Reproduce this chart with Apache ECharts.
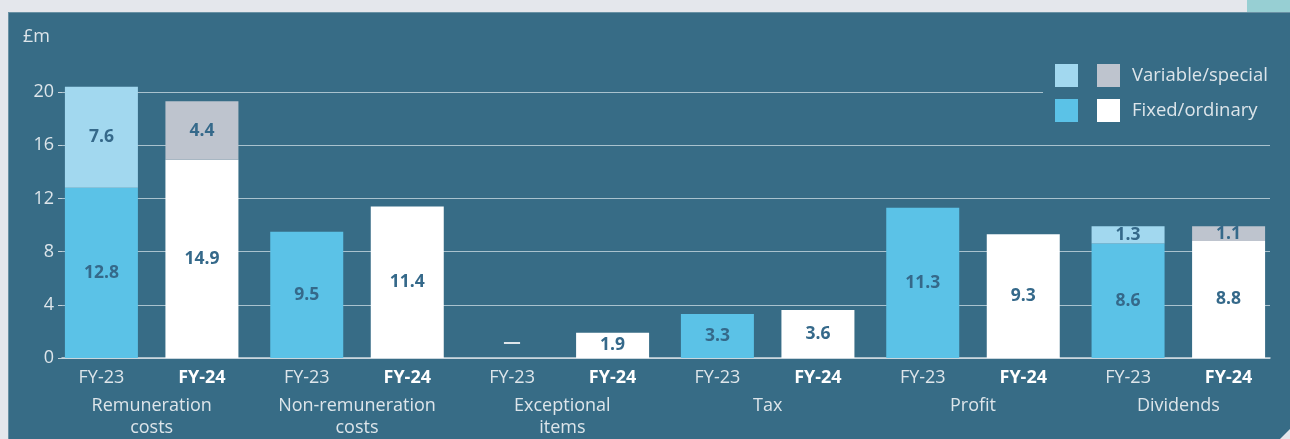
<!DOCTYPE html>
<html>
<head>
<meta charset="utf-8">
<script src="https://cdn.jsdelivr.net/npm/echarts@6/dist/echarts.min.js"></script>
<style>
  html, body { margin:0; padding:0; background:#e4e7ec; width:1290px; height:439px; overflow:hidden; }
  #panel { position:absolute; left:8px; top:12px; width:1282px; height:427px; background:#376c86;
           box-shadow: inset 1px 1px 0 rgba(255,255,255,0.25);
           clip-path: polygon(0 0, 100% 0, 100% 417px, 1272px 100%, 0 100%); }
  #corner { position:absolute; left:1247px; top:0; width:43px; height:12px; background:#97cfd3; }
  #chart { position:absolute; left:0; top:0; width:1290px; height:439px; }
</style>
</head>
<body>
<div id="panel"></div>
<div id="corner"></div>
<div id="chart"></div>
<script>
// ---- data ----
const groups = ['Remuneration\ncosts', 'Non-remuneration\ncosts', 'Exceptional\nitems', 'Tax', 'Profit', 'Dividends'];
const periods = ['FY-23', 'FY-24'];
const fy23Fixed    = [12.8, 9.5, 0, 3.3, 11.3, 8.6];
const fy23Variable = [7.6, null, null, null, null, 1.3];
const fy24Fixed    = [14.9, 11.4, 1.9, 3.6, 9.3, 8.8];
const fy24Variable = [4.4, null, null, null, null, 1.1];
const yTicks = [0, 4, 8, 12, 16, 20];
const legendNames = ['Variable/special', 'Fixed/ordinary'];

// ---- styling ----
const FONT = 'Open Sans';
const FS = 18;
const TXT = '#dde5ea';
const LBL = '#35698a';
const C = { f23: '#5bc2e7', v23: '#a2d8ef', f24: '#ffffff', v24: '#bec4ce' };

const chart = echarts.init(document.getElementById('chart'), null, { renderer: 'canvas' });

function fixedData(arr) {
  return arr.map(v => v === 0 ? { value: 0, label: { position: 'top', distance: 6, color: TXT, formatter: '—' } } : v);
}
function barSeries(name, data, stack, color) {
  return {
    name, type: 'bar', stack, data, xAxisIndex: 0, yAxisIndex: 0,
    barWidth: 73, barGap: '37.7%', clip: false,
    itemStyle: { color },
    emphasis: { disabled: true },
    label: {
      show: true, position: 'inside', color: LBL, fontFamily: FONT, fontWeight: 'bold', fontSize: 17.5,
      formatter: p => p.value == null ? '' : p.value.toFixed(1)
    }
  };
}

const nmin = yTicks[0], nmax = yTicks[yTicks.length - 1], nint = yTicks[1] - yTicks[0];

chart.setOption({
  animation: false,
  backgroundColor: 'transparent',
  textStyle: { fontFamily: FONT },
  grid: [
    { left: 49, right: 9, top: 92, bottom: 81 },
    { left: 62, right: 20, top: 92, bottom: 81 }
  ],
  xAxis: [
    {
      type: 'category', gridIndex: 0, data: groups,
      axisLine: { show: false }, axisTick: { show: false },
      axisLabel: {
        margin: 3, interval: 0,
        formatter: (val) => {
          const lines = val.split('\n').map(s => '{n|' + s + '}').join('\n');
          return '{a|' + periods[0] + '}{b|' + periods[1] + '}\n' + lines;
        },
        rich: {
          a: { width: 100.5, align: 'center', lineHeight: 34, fontSize: FS, color: TXT, fontFamily: FONT },
          b: { width: 100.5, align: 'center', lineHeight: 34, fontSize: FS, color: '#ffffff', fontWeight: 'bold', fontFamily: FONT },
          n: { lineHeight: 22, fontSize: FS, color: TXT, fontFamily: FONT }
        }
      }
    },
    {
      type: 'category', gridIndex: 1, data: [],
      axisLine: { show: true, lineStyle: { color: '#d3dde3', width: 1.5 } },
      axisTick: { show: false }, axisLabel: { show: false }
    }
  ],
  yAxis: [
    {
      type: 'value', gridIndex: 0, min: nmin, max: nmax, interval: nint,
      axisLine: { show: false }, axisTick: { show: false }, axisLabel: { show: false }, splitLine: { show: false }
    },
    {
      type: 'value', gridIndex: 1, min: nmin, max: nmax, interval: nint,
      name: '£m', nameLocation: 'end', nameGap: 46,
      nameTextStyle: { color: TXT, fontSize: FS, align: 'right', padding: [0, 12, 0, 0], fontFamily: FONT },
      axisLine: { show: false },
      axisTick: { show: true, length: 4, lineStyle: { color: '#c5d3da' } },
      axisLabel: { color: TXT, fontSize: FS, margin: 8, fontFamily: FONT },
      splitLine: { show: true, lineStyle: { color: '#a9c2ce', width: 1 } }
    }
  ],
  legend: [
    {
      left: 1043, top: 52, orient: 'vertical', itemWidth: 23, itemHeight: 23, itemGap: 12,
      padding: [12, 19, 12, 12], backgroundColor: '#376c86',
      icon: 'rect', selectedMode: false,
      data: ['FY-23 ' + legendNames[0], 'FY-23 ' + legendNames[1]],
      formatter: () => '',
      textStyle: { fontSize: 1 }
    },
    {
      left: 1097, top: 52, orient: 'vertical', itemWidth: 23, itemHeight: 23, itemGap: 12,
      padding: [12, 20, 12, 0], backgroundColor: '#376c86',
      icon: 'rect', selectedMode: false,
      data: ['FY-24 ' + legendNames[0], 'FY-24 ' + legendNames[1]],
      formatter: name => name.replace('FY-24 ', ''),
      textStyle: { color: TXT, fontSize: 18.5, fontFamily: FONT, padding: [0, 0, 0, 7] }
    }
  ],
  series: [
    barSeries('FY-23 ' + legendNames[1], fixedData(fy23Fixed), 'fy23', C.f23),
    barSeries('FY-23 ' + legendNames[0], fy23Variable, 'fy23', C.v23),
    barSeries('FY-24 ' + legendNames[1], fixedData(fy24Fixed), 'fy24', C.f24),
    barSeries('FY-24 ' + legendNames[0], fy24Variable, 'fy24', C.v24)
  ]
});
</script>
</body>
</html>
